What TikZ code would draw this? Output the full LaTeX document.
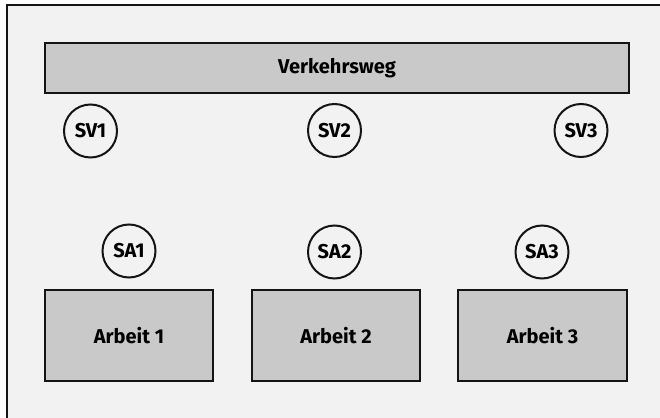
\documentclass[tikz,border=0pt]{standalone}
\usepackage{fontspec}
\setmainfont{Fira Sans}
\definecolor{bggray}{RGB}{242,242,242}
\definecolor{boxgray}{RGB}{200,201,200}
\definecolor{linedark}{RGB}{20,20,20}
\begin{document}
\begin{tikzpicture}[x=1pt,y=-1pt,
  box/.style={draw=linedark,line width=2.4pt,fill=boxgray,rectangle,inner sep=0pt,
    font=\fontsize{20}{24}\selectfont\bfseries},
  sign/.style={draw=linedark,line width=2pt,circle,minimum size=53pt,inner sep=0pt,
    font=\fontsize{20}{24}\selectfont\bfseries}]
\useasboundingbox (0,0) rectangle (660,417);
\fill[white] (0,0) rectangle (660,417);
\draw[line width=2.4pt,draw=linedark,fill=bggray] (7,5) rectangle (670,425);
\node[box,minimum width=584pt,minimum height=50pt] (weg) at (337,68) {Verkehrsweg};
\node[sign] (sv1) at (90.5,131) {SV1};
\node[sign] (sv2) at (334.5,130.5) {SV2};
\node[sign] (sv3) at (581,130.5) {SV3};
\node[sign] (sa1) at (129,251) {SA1};
\node[sign] (sa2) at (334.5,252) {SA2};
\node[sign] (sa3) at (542,252) {SA3};
\node[box,minimum width=168pt,minimum height=91pt] (a1) at (129,335.5) {Arbeit 1};
\node[box,minimum width=168pt,minimum height=91pt] (a2) at (336,335.5) {Arbeit 2};
\node[box,minimum width=169pt,minimum height=91pt] (a3) at (542.5,335.5) {Arbeit 3};
\end{tikzpicture}
\end{document}
